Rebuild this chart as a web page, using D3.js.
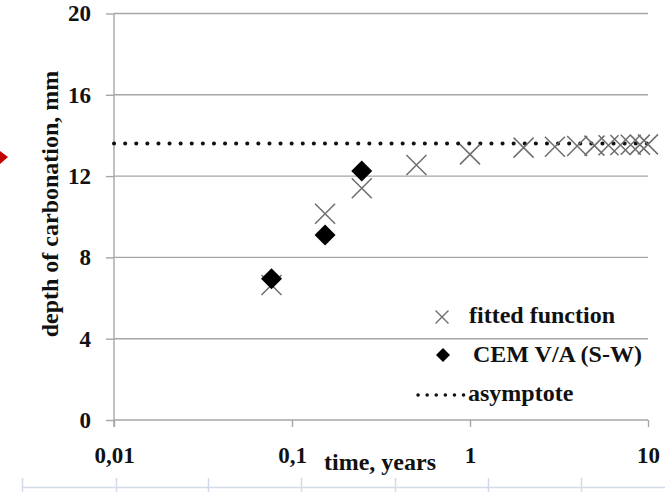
<!DOCTYPE html>
<html lang="en">

<head>
  <meta charset="utf-8">
  <title>Depth of carbonation vs time</title>
  <script src="https://cdn.jsdelivr.net/npm/d3@7"></script>
  <style>
    body {
      margin: 0;
      background: #fff;
    }

    text {
      font-family: "Liberation Serif", "Times New Roman", serif;
      font-weight: bold;
      fill: #111;
    }
  </style>
</head>

<body>
</body>
<script>
  // fitted function (years, mm)
  var fitTime = [0.0767, 0.1534, 0.2466, 0.5, 1, 2, 3, 4, 5, 6, 7, 8, 9, 10];
  var fitDepth = [6.64, 10.15, 11.4, 12.55, 13.07, 13.4, 13.44, 13.48, 13.5, 13.52, 13.53, 13.54, 13.55, 13.56];

  // measured CEM V/A (S-W)
  var cemTime = [0.0767, 0.1534, 0.2466];
  var cemDepth = [6.95, 9.1, 12.25];

  // asymptote
  var asymTime = [0.01, 10];
  var asymDepth = [13.6, 13.6];

  var xTicks = [0.01, 0.1, 1, 10];
  var xTickLabels = ["0,01", "0,1", "1", "10"];
  var yTicks = [0, 4, 8, 12, 16, 20];

  var W = 665, H = 492;
  var margin = { top: 13.5, right: 17, bottom: 72, left: 114 },
    width = W - margin.left - margin.right,
    height = H - margin.top - margin.bottom;

  var x = d3.scaleLog().domain([0.01, 10]).range([0, width]);
  var y = d3.scaleLinear().domain([0, 20]).range([height, 0]);

  var root = d3.select("body").append("svg")
    .attr("width", W)
    .attr("height", H);

  // page decoration: red arrow tip and table border below the chart
  root.append("path")
    .attr("d", "M0,151 L8,157 L0,164 Z")
    .attr("fill", "#c00000");

  var cols = [22, 116, 208, 301, 395, 488, 581];
  root.append("line")
    .attr("x1", 22).attr("x2", W)
    .attr("y1", 487.5).attr("y2", 487.5)
    .attr("stroke", "#d3dbe9").attr("stroke-width", 1.5);
  root.selectAll(".col").data(cols).enter().append("line")
    .attr("class", "col")
    .attr("x1", function(d) { return d + 0.5; })
    .attr("x2", function(d) { return d + 0.5; })
    .attr("y1", 478).attr("y2", H)
    .attr("stroke", "#d3dbe9").attr("stroke-width", 1.5);

  var svg = root.append("g")
    .attr("transform", "translate(" + margin.left + "," + margin.top + ")");

  // horizontal gridlines
  svg.selectAll(".grid").data(yTicks.slice(1)).enter().append("line")
    .attr("class", "grid")
    .attr("x1", 0).attr("x2", width)
    .attr("y1", function(d) { return y(d); })
    .attr("y2", function(d) { return y(d); })
    .attr("stroke", "#a6a6a6").attr("stroke-width", 1.4);

  // y axis
  var yAxis = d3.axisLeft(y)
    .tickValues(yTicks)
    .tickSize(8)
    .tickPadding(15)
    .tickFormat(d3.format("d"));

  var gy = svg.append("g").call(yAxis);
  gy.select(".domain").remove();
  gy.append("line")
    .attr("x1", 0).attr("x2", 0)
    .attr("y1", 0).attr("y2", height + 7)
    .attr("stroke", "#a6a6a6").attr("stroke-width", 1.4);
  gy.selectAll(".tick line").attr("stroke", "#a6a6a6").attr("stroke-width", 1.4);
  gy.selectAll(".tick text")
    .attr("font-size", 23)
    .attr("font-family", null)
    .attr("fill", "#111");

  // x axis
  var xAxis = d3.axisBottom(x)
    .tickValues(xTicks)
    .tickSize(7)
    .tickPadding(20)
    .tickFormat(function(d, i) { return xTickLabels[i]; });

  var gx = svg.append("g")
    .attr("transform", "translate(0," + height + ")")
    .call(xAxis);
  gx.select(".domain")
    .attr("d", "M0,0H" + width)
    .attr("stroke", "#a6a6a6").attr("stroke-width", 1.4);
  gx.selectAll(".tick line").attr("stroke", "#a6a6a6").attr("stroke-width", 1.4);
  gx.selectAll(".tick text")
    .attr("font-size", 23)
    .attr("font-family", null)
    .attr("fill", "#111");

  // axis titles
  svg.append("text")
    .attr("transform", "translate(" + (58 - margin.left) + "," + (204 - margin.top) + ") rotate(-90)")
    .attr("text-anchor", "middle")
    .attr("font-size", 24)
    .text("depth of carbonation, mm");

  svg.append("text")
    .attr("x", 380 - margin.left)
    .attr("y", 470 - margin.top)
    .attr("text-anchor", "middle")
    .attr("font-size", 24)
    .text("time, years");

  // asymptote
  var line = d3.line()
    .x(function(d) { return x(d[0]); })
    .y(function(d) { return y(d[1]); });

  svg.append("path")
    .datum(d3.zip(asymTime, asymDepth))
    .attr("d", line)
    .attr("fill", "none")
    .attr("stroke", "#111")
    .attr("stroke-width", 4)
    .attr("stroke-linecap", "round")
    .attr("stroke-dasharray", "0.1 11");

  function cross(s) {
    return "M" + (-s) + "," + (-s) + "L" + s + "," + s + "M" + (-s) + "," + s + "L" + s + "," + (-s);
  }

  function diamond(s) {
    return "M0," + (-s) + "L" + s + ",0L0," + s + "L" + (-s) + ",0Z";
  }

  // fitted function markers
  svg.selectAll(".fit").data(d3.zip(fitTime, fitDepth)).enter().append("path")
    .attr("class", "fit")
    .attr("transform", function(d) { return "translate(" + x(d[0]) + "," + y(d[1]) + ")"; })
    .attr("d", cross(10))
    .attr("fill", "none")
    .attr("stroke", "#6e6e6e")
    .attr("stroke-width", 1.5);

  // measured markers
  svg.selectAll(".cem").data(d3.zip(cemTime, cemDepth)).enter().append("path")
    .attr("class", "cem")
    .attr("transform", function(d) { return "translate(" + x(d[0]) + "," + y(d[1]) + ")"; })
    .attr("d", diamond(10.5))
    .attr("fill", "#000");

  // legend
  var legend = root.append("g");
  legend.append("path")
    .attr("transform", "translate(442,317)")
    .attr("d", cross(6.5))
    .attr("fill", "none")
    .attr("stroke", "#6e6e6e")
    .attr("stroke-width", 1.4);
  legend.append("text")
    .attr("x", 469).attr("y", 323)
    .attr("font-size", 24)
    .text("fitted function");

  legend.append("path")
    .attr("transform", "translate(443,355)")
    .attr("d", diamond(7))
    .attr("fill", "#000");
  legend.append("text")
    .attr("x", 473).attr("y", 362)
    .attr("font-size", 24)
    .text("CEM V/A (S-W)");

  legend.append("line")
    .attr("x1", 418).attr("x2", 464)
    .attr("y1", 395).attr("y2", 395)
    .attr("stroke", "#111")
    .attr("stroke-width", 3.5)
    .attr("stroke-linecap", "round")
    .attr("stroke-dasharray", "0.1 9");
  legend.append("text")
    .attr("x", 468).attr("y", 401)
    .attr("font-size", 24)
    .text("asymptote");
</script>

</html>
